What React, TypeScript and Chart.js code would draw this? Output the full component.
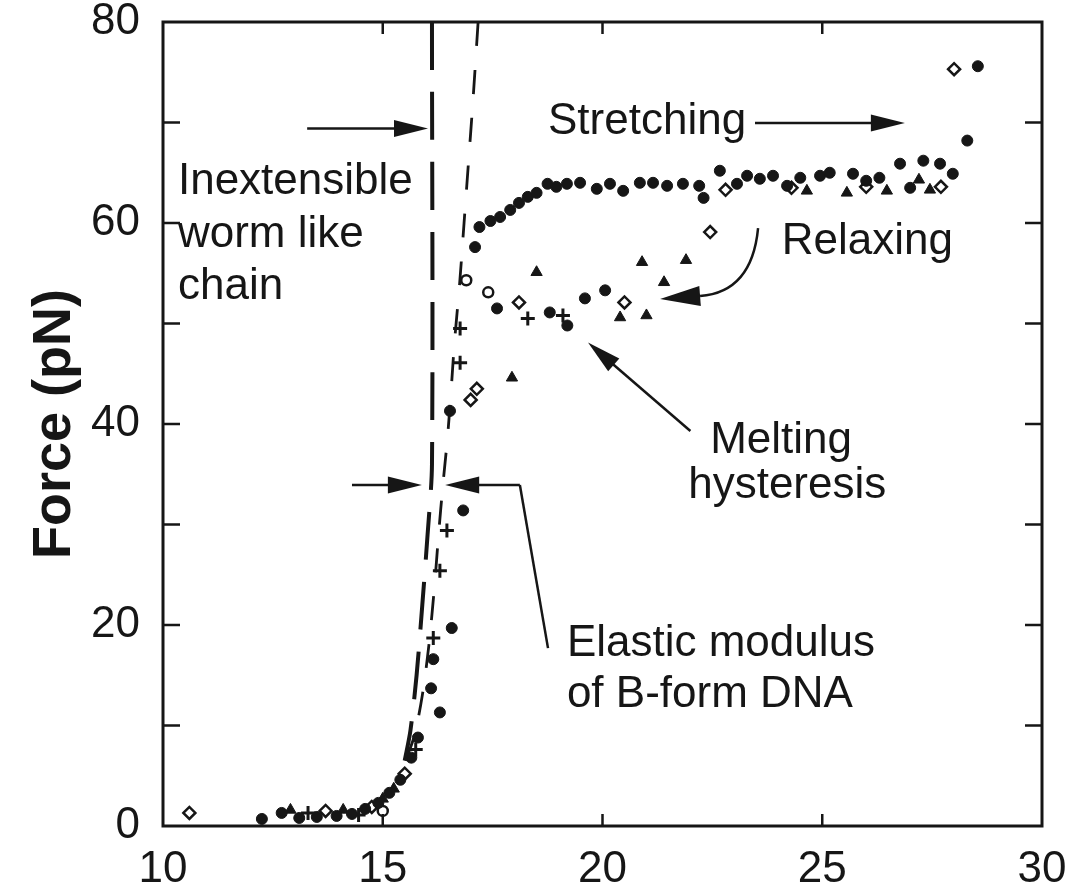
import React, { useEffect, useRef } from "react";
import { Chart, registerables } from "chart.js";

Chart.register(...registerables);

// ---------- axis ranges & ticks ----------
const X_MIN = 10;
const X_MAX = 30;
const Y_MIN = 0;
const Y_MAX = 80;
const X_STEP = 5;
const Y_STEP = 20;
const yInnerTicks = [10, 20, 30, 40, 50, 60, 70];
const xInnerTicks = [15, 20, 25];
const yAxisTitle = "Force (pN)";

// ---------- data (extension, force) ----------
const stretching: [number, number][] = [
  [12.25, 0.7], [12.7, 1.3], [13.1, 0.8], [13.5, 0.9], [13.95, 1.0], [14.3, 1.2],
  [14.6, 1.7], [14.9, 2.3], [15.15, 3.3], [15.4, 4.6], [15.65, 6.8], [15.8, 8.8],
  [16.3, 11.3], [16.1, 13.7], [16.15, 16.6], [16.57, 19.7], [16.83, 31.4],
  [17.1, 57.6], [17.2, 59.6], [17.45, 60.2], [17.67, 60.6], [17.9, 61.3],
  [18.1, 62.0], [18.3, 62.6], [18.5, 63.0], [18.75, 63.9], [18.95, 63.6],
  [19.19, 63.9], [19.49, 64.0], [19.87, 63.4], [20.17, 63.9], [20.47, 63.2],
  [20.85, 64.0], [21.15, 64.0], [21.47, 63.7], [21.83, 63.9], [22.2, 63.7],
  [22.3, 62.5], [22.67, 65.2], [23.06, 63.9], [23.29, 64.7], [23.58, 64.4],
  [23.88, 64.7], [24.2, 63.7], [24.5, 64.5], [24.95, 64.7], [25.17, 65.0],
  [25.7, 64.9], [26.0, 64.2], [26.3, 64.5], [26.77, 65.9], [27.0, 63.5],
  [27.3, 66.2], [27.68, 65.9], [27.97, 64.9], [28.3, 68.2], [28.54, 75.6],
];

const relaxingFilled: [number, number][] = [
  [16.53, 41.3], [17.6, 51.5], [18.8, 51.1], [19.2, 49.8], [19.6, 52.5], [20.06, 53.3],
];

const relaxingTriangles: [number, number][] = [
  [12.9, 1.6], [14.1, 1.6], [15.0, 2.7], [15.25, 3.7], [17.94, 44.6], [18.5, 55.1],
  [20.4, 50.6], [21.0, 50.8], [20.9, 56.1], [21.9, 56.3], [21.4, 54.1],
  [24.65, 63.2], [25.56, 63.0], [26.47, 63.2], [27.45, 63.3], [27.2, 64.3],
];

const relaxingDiamonds: [number, number][] = [
  [10.6, 1.3], [13.7, 1.5], [14.75, 1.9], [15.5, 5.2], [17.14, 43.5], [17.0, 42.4],
  [18.1, 52.1], [20.5, 52.1], [22.45, 59.1], [22.8, 63.3], [24.3, 63.5],
  [26.0, 63.6], [27.7, 63.6], [28.0, 75.3],
];

const relaxingCrosses: [number, number][] = [
  [13.3, 1.3], [14.45, 1.1], [15.75, 7.6], [16.15, 18.7], [16.3, 25.4], [16.46, 29.4],
  [16.76, 46.1], [16.76, 49.5], [18.3, 50.5], [19.1, 50.8],
];

const relaxingCircles: [number, number][] = [
  [15.0, 1.5], [16.9, 54.3], [17.4, 53.1],
];

// model curves
const wormLikeChain: [number, number][] = [
  [16.12, 80], [16.12, 36], [16.02, 29], [15.9, 22], [15.77, 15], [15.63, 9.5], [15.5, 6.5],
];
const elasticModulus: [number, number][] = [
  [17.17, 80], [17.05, 72], [16.95, 66], [16.85, 60], [16.75, 54], [16.63, 48],
  [16.55, 43], [16.47, 38.5], [16.37, 34], [16.27, 29], [16.18, 24], [16.05, 18],
  [15.9, 13], [15.72, 9], [15.52, 6.5],
];

// ---------- annotations (data coordinates) ----------
const textLabels = [
  { text: "Inextensible", x: 10.34, y: 62.9 },
  { text: "worm like", x: 10.34, y: 57.6 },
  { text: "chain", x: 10.34, y: 52.4 },
  { text: "Stretching", x: 18.76, y: 68.9 },
  { text: "Relaxing", x: 24.08, y: 56.9 },
  { text: "Melting", x: 22.45, y: 37.1 },
  { text: "hysteresis", x: 21.95, y: 32.6 },
  { text: "Elastic modulus", x: 19.19, y: 16.9 },
  { text: "of B-form DNA", x: 19.19, y: 11.85 },
];

const straightArrows = [
  { from: [13.28, 69.4], to: [16.03, 69.4] },
  { from: [23.47, 69.95], to: [26.88, 69.95] },
  { from: [22.0, 39.3], to: [19.67, 48.1] },
  { from: [14.3, 33.93], to: [15.89, 33.93] },
  { from: [18.12, 33.93], to: [16.42, 33.93] },
];
const leaderLine: [number, number][] = [[18.12, 33.93], [18.76, 17.7]];
const relaxCurve = { start: [23.54, 59.5], ctrl: [23.4, 53.13], base: [22.22, 52.74], tip: [21.31, 52.44] };

const INK = "#161616";
const FONT = "'Liberation Sans', Arial, Helvetica, sans-serif";

const toPts = (arr: [number, number][]) => arr.map(([x, y]) => ({ x, y }));

function drawHead(ctx: CanvasRenderingContext2D, bx: number, by: number, tx: number, ty: number, w: number) {
  const ang = Math.atan2(ty - by, tx - bx);
  const s = Math.sin(ang), c = Math.cos(ang);
  ctx.beginPath();
  ctx.moveTo(tx, ty);
  ctx.lineTo(bx + (w / 2) * s, by - (w / 2) * c);
  ctx.lineTo(bx - (w / 2) * s, by + (w / 2) * c);
  ctx.closePath();
  ctx.fill();
}

function drawArrow(ctx: CanvasRenderingContext2D, x1: number, y1: number, x2: number, y2: number, len: number, w: number) {
  const ang = Math.atan2(y2 - y1, x2 - x1);
  const bx = x2 - Math.cos(ang) * len;
  const by = y2 - Math.sin(ang) * len;
  ctx.beginPath();
  ctx.moveTo(x1, y1);
  ctx.lineTo(bx + Math.cos(ang) * 4, by + Math.sin(ang) * 4);
  ctx.stroke();
  drawHead(ctx, bx, by, x2, y2, w);
}

const overlayPlugin = {
  id: "overlay",
  afterDatasetsDraw(chart: any) {
    const ctx: CanvasRenderingContext2D = chart.ctx;
    const xs = chart.scales.x;
    const ys = chart.scales.y;
    const px = (v: number) => xs.getPixelForValue(v);
    const py = (v: number) => ys.getPixelForValue(v);
    const { left, right, top, bottom } = chart.chartArea;
    ctx.save();
    ctx.strokeStyle = INK;
    ctx.fillStyle = INK;
    ctx.lineCap = "butt";

    // frame
    ctx.lineWidth = 3;
    ctx.strokeRect(left, top, right - left, bottom - top);

    // inward ticks
    ctx.lineWidth = 2.5;
    ctx.beginPath();
    yInnerTicks.forEach((v) => {
      const y = py(v);
      ctx.moveTo(left, y); ctx.lineTo(left + 17, y);
      ctx.moveTo(right, y); ctx.lineTo(right - 17, y);
    });
    xInnerTicks.forEach((v) => {
      const x = px(v);
      ctx.moveTo(x, bottom); ctx.lineTo(x, bottom - 12);
      ctx.moveTo(x, top); ctx.lineTo(x, top + 12);
    });
    ctx.stroke();

    // arrows
    ctx.lineWidth = 2.5;
    straightArrows.forEach((a) => {
      drawArrow(ctx, px(a.from[0]), py(a.from[1]), px(a.to[0]), py(a.to[1]), 34, 17);
    });
    // leader line of elastic modulus
    ctx.beginPath();
    ctx.moveTo(px(leaderLine[0][0]), py(leaderLine[0][1]));
    ctx.lineTo(px(leaderLine[1][0]), py(leaderLine[1][1]));
    ctx.stroke();
    // curved relaxing arrow
    ctx.beginPath();
    ctx.moveTo(px(relaxCurve.start[0]), py(relaxCurve.start[1]));
    ctx.quadraticCurveTo(px(relaxCurve.ctrl[0]), py(relaxCurve.ctrl[1]), px(relaxCurve.base[0]), py(relaxCurve.base[1]));
    ctx.stroke();
    drawHead(ctx, px(relaxCurve.base[0]), py(relaxCurve.base[1]), px(relaxCurve.tip[0]), py(relaxCurve.tip[1]), 20);

    // labels
    ctx.font = `44px ${FONT}`;
    ctx.textAlign = "left";
    ctx.textBaseline = "alphabetic";
    textLabels.forEach((t) => ctx.fillText(t.text, px(t.x), py(t.y)));
    ctx.restore();
  },
};

export default function App() {
  const ref = useRef<HTMLCanvasElement | null>(null);
  useEffect(() => {
    if (!ref.current) return;
    const pointBase = { showLine: false, borderColor: INK };
    const chart = new Chart(ref.current, {
      type: "scatter",
      data: {
        datasets: [
          {
            label: "Inextensible worm like chain",
            data: toPts(wormLikeChain),
            showLine: true, pointRadius: 0, borderColor: INK, borderWidth: 4,
            borderDash: [48, 22], tension: 0.3, fill: false,
          },
          {
            label: "Elastic modulus of B-form DNA",
            data: toPts(elasticModulus),
            showLine: true, pointRadius: 0, borderColor: INK, borderWidth: 2.8,
            borderDash: [24, 24], tension: 0.3, fill: false,
          },
          {
            label: "Stretching",
            data: toPts(stretching),
            ...pointBase, pointStyle: "circle", pointRadius: 5.5, backgroundColor: INK, borderWidth: 1,
          },
          {
            label: "Relaxing",
            data: toPts(relaxingFilled),
            ...pointBase, pointStyle: "circle", pointRadius: 5.5, backgroundColor: INK, borderWidth: 1,
          },
          {
            label: "Relaxing (triangles)",
            data: toPts(relaxingTriangles),
            ...pointBase, pointStyle: "triangle", pointRadius: 6.5, backgroundColor: INK, borderWidth: 1,
          },
          {
            label: "Relaxing (diamonds)",
            data: toPts(relaxingDiamonds),
            ...pointBase, pointStyle: "rectRot", pointRadius: 6, backgroundColor: "#ffffff", borderWidth: 2.5,
          },
          {
            label: "Relaxing (crosses)",
            data: toPts(relaxingCrosses),
            ...pointBase, pointStyle: "cross", pointRadius: 7, backgroundColor: INK, borderWidth: 3,
          },
          {
            label: "Relaxing (circles)",
            data: toPts(relaxingCircles),
            ...pointBase, pointStyle: "circle", pointRadius: 5, backgroundColor: "#ffffff", borderWidth: 2.5,
          },
        ],
      },
      options: {
        responsive: false,
        maintainAspectRatio: false,
        animation: false,
        layout: { padding: { left: 0, right: 42, top: 22, bottom: 0 } },
        plugins: { legend: { display: false }, tooltip: { enabled: false } },
        scales: {
          x: {
            type: "linear",
            position: "bottom",
            min: X_MIN,
            max: X_MAX,
            afterFit: (s: any) => { s.height = 64; s.paddingLeft = 0; s.paddingRight = 0; },
            grid: { display: false, drawTicks: false },
            border: { display: false },
            ticks: {
              stepSize: X_STEP, padding: 17, maxRotation: 0, autoSkip: false,
              color: INK, font: { family: FONT, size: 44 },
            },
          },
          y: {
            type: "linear",
            min: Y_MIN,
            max: Y_MAX,
            afterFit: (s: any) => { s.width = 163; s.paddingTop = 0; s.paddingBottom = 0; },
            grid: { display: false, drawTicks: false },
            border: { display: false },
            ticks: {
              stepSize: Y_STEP, padding: 23,
              color: INK, font: { family: FONT, size: 44 },
            },
            title: {
              display: true, text: yAxisTitle, color: INK,
              font: { family: FONT, size: 54, weight: "bold" },
              padding: { top: 23, bottom: 0 },
            },
          },
        },
      },
      plugins: [overlayPlugin],
    } as any);
    return () => chart.destroy();
  }, []);

  return (
    <div style={{ position: "fixed", left: 0, top: 0, width: 1084, height: 890, background: "#ffffff" }}>
      <canvas ref={ref} width={1084} height={890} style={{ display: "block", width: 1084, height: 890 }} />
    </div>
  );
}
